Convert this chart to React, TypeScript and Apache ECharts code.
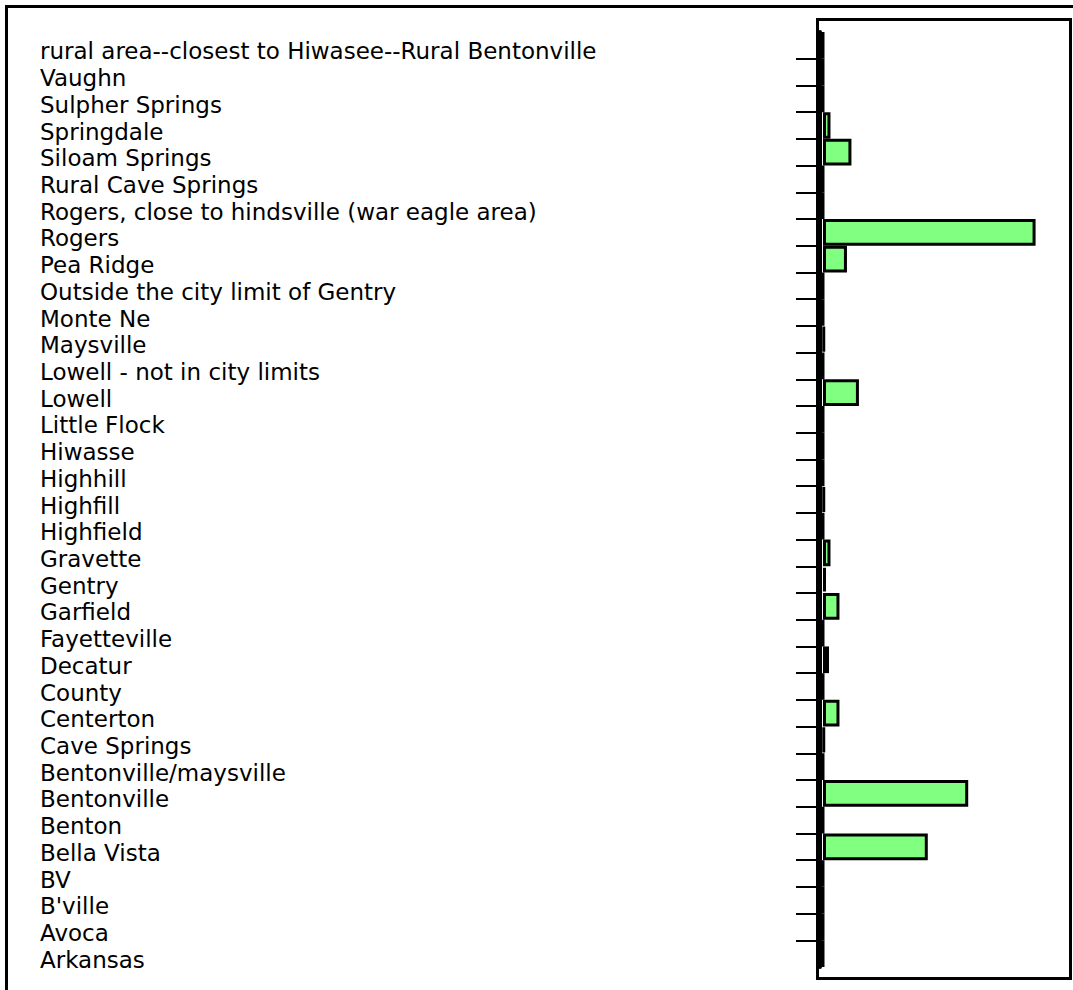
import React, { useEffect, useRef } from "react";
import * as echarts from "echarts";

const categories: string[] = [
  "rural area--closest to Hiwasee--Rural Bentonville",
  "Vaughn",
  "Sulpher Springs",
  "Springdale",
  "Siloam Springs",
  "Rural Cave Springs",
  "Rogers, close to hindsville (war eagle area)",
  "Rogers",
  "Pea Ridge",
  "Outside the city limit of Gentry",
  "Monte Ne",
  "Maysville",
  "Lowell - not in city limits",
  "Lowell",
  "Little Flock",
  "Hiwasse",
  "Highhill",
  "Highfill",
  "Highfield",
  "Gravette",
  "Gentry",
  "Garfield",
  "Fayetteville",
  "Decatur",
  "County",
  "Centerton",
  "Cave Springs",
  "Bentonville/maysville",
  "Bentonville",
  "Benton",
  "Bella Vista",
  "BV",
  "B'ville",
  "Avoca",
  "Arkansas",
];

const counts: number[] = [
  0, 0, 0, 5, 19, 0, 0, 142, 16, 0, 0, 1, 0, 24, 0, 0, 0, 1, 0, 5, 2, 11, 0, 4,
  0, 11, 1, 0, 97, 0, 70, 0, 0, 0, 0,
];

const xMin = -2;
const xMax = 165;

export default function App() {
  const ref = useRef<HTMLDivElement>(null);

  useEffect(() => {
    if (!ref.current) return;
    const chart = echarts.init(ref.current, undefined, { renderer: "svg" });
    const boundaries = Array.from({ length: categories.length + 1 }, (_, i) => String(i));
    chart.setOption({
      animation: false,
      backgroundColor: "#ffffff",
      grid: { left: 820, right: 3, top: 32, bottom: 23, containLabel: false },
      xAxis: {
        type: "value",
        min: xMin,
        max: xMax,
        show: false,
        splitLine: { show: false },
      },
      yAxis: [
        {
          type: "category",
          data: categories,
          inverse: true,
          position: "left",
          axisLine: { show: true, onZero: false, lineStyle: { color: "#000", width: 4 } },
          axisTick: { show: false },
          splitLine: { show: false },
          axisLabel: {
            show: true,
            interval: 0,
            align: "left",
            verticalAlign: "top",
            lineHeight: 12,
            margin: 780,
            color: "#000",
            fontFamily: "DejaVu Sans",
            fontSize: 23,
          },
        },
        {
          type: "category",
          data: boundaries,
          boundaryGap: false,
          inverse: true,
          position: "left",
          offset: 0,
          axisLine: { show: false, onZero: false },
          axisLabel: { show: false },
          splitLine: { show: false },
          axisTick: {
            show: true,
            length: 24,
            interval: (i: number) => i > 0 && i < categories.length,
            lineStyle: { color: "#000", width: 2 },
          },
        },
      ],
      series: [
        {
          type: "bar",
          yAxisIndex: 0,
          data: counts,
          barCategoryGap: "0%",
          itemStyle: { color: "#80ff80", borderColor: "#000", borderWidth: 3 },
        },
      ],
      graphic: [
        {
          type: "rect",
          silent: true,
          shape: { x: 6.5, y: 6.5, width: 1200, height: 1200 },
          style: { fill: "none", stroke: "#000", lineWidth: 3 },
        },
        {
          type: "rect",
          silent: true,
          shape: { x: 817.5, y: 19.5, width: 253, height: 959 },
          style: { fill: "none", stroke: "#000", lineWidth: 3 },
        },
      ],
    });
    return () => chart.dispose();
  }, []);

  return (
    <div
      ref={ref}
      style={{ position: "absolute", left: 0, top: 0, width: 1073, height: 990 }}
    />
  );
}
